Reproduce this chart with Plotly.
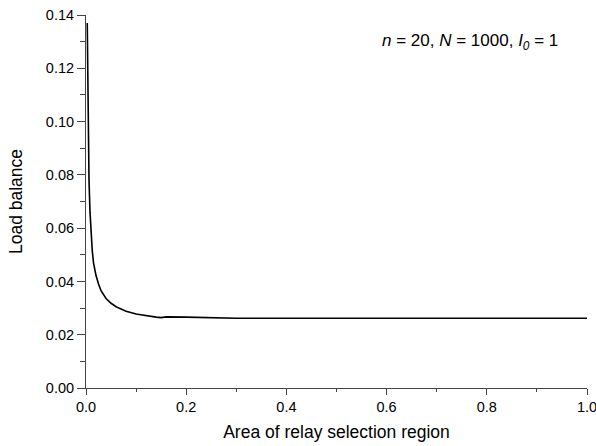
import plotly.graph_objects as go

area = [0.0025, 0.003, 0.004, 0.005, 0.006, 0.008, 0.010, 0.0125, 0.015, 0.02,
        0.025, 0.03, 0.04, 0.05, 0.06, 0.07, 0.08, 0.10, 0.12, 0.14, 0.15, 0.16,
        0.20, 0.25, 0.30, 0.40, 0.50, 0.60, 0.70, 0.80, 0.90, 1.00]
load_balance = [0.137, 0.125, 0.104, 0.089, 0.078, 0.066, 0.0585, 0.0515, 0.047, 0.0422,
                0.039, 0.0365, 0.0336, 0.0318, 0.0305, 0.0295, 0.0288, 0.0278, 0.0271, 0.0266, 0.0264, 0.0267,
                0.0266, 0.0263, 0.0262, 0.0262, 0.0262, 0.0262, 0.0262, 0.0261, 0.0262, 0.0262]

x_ticks = [0.0, 0.2, 0.4, 0.6, 0.8, 1.0]
x_labels = ["0.0", "0.2", "0.4", "0.6", "0.8", "1.0"]
y_ticks = [0.00, 0.02, 0.04, 0.06, 0.08, 0.10, 0.12, 0.14]
y_labels = ["0.00", "0.02", "0.04", "0.06", "0.08", "0.10", "0.12", "0.14"]

FONT = "Liberation Sans, Arial"

fig = go.Figure()
fig.add_trace(go.Scatter(x=area, y=load_balance, mode="lines",
                         line=dict(color="black", width=1.6), showlegend=False))

axis_common = dict(showgrid=False, zeroline=False, showline=True, linecolor="#444",
                   linewidth=1, ticks="outside", tickcolor="#444", tickwidth=1,
                   ticklabeloverflow="allow", automargin=False,
                   tickfont=dict(family=FONT, size=14.5, color="black"))

fig.update_xaxes(range=[0, 1.0], tickvals=x_ticks, ticktext=x_labels, ticklen=6,
                 minor=dict(ticks="outside", ticklen=3, tickcolor="#444", dtick=0.1),
                 title=dict(text="Area of relay selection region", standoff=11,
                            font=dict(family=FONT, size=17.5, color="black")),
                 **axis_common)
fig.update_yaxes(range=[0, 0.14], tickvals=y_ticks, ticktext=y_labels, ticklen=8,
                 minor=dict(ticks="outside", ticklen=5, tickcolor="#444", dtick=0.01),
                 title=dict(text="Load balance", standoff=18,
                            font=dict(family=FONT, size=17.5, color="black")),
                 **axis_common)

fig.add_annotation(text="<i>n</i> = 20, <i>N</i> = 1000, <i>I</i><sub><i>0</i></sub> = 1",
                   xref="paper", yref="paper", x=0.946, y=0.928, xanchor="right", yanchor="middle",
                   showarrow=False, font=dict(family=FONT, size=17, color="black"))

fig.update_layout(width=596, height=446, plot_bgcolor="white", paper_bgcolor="white",
                  margin=dict(l=86, r=9, t=15, b=58))

fig.write_html("out.html", config={"displayModeBar": False})

with open("out.html", "r", encoding="utf-8") as f:
    html = f.read()
html = html.replace("<head>", "<head><style>html,body{margin:0;padding:0;overflow:hidden;}</style>", 1)
with open("out.html", "w", encoding="utf-8") as f:
    f.write(html)
